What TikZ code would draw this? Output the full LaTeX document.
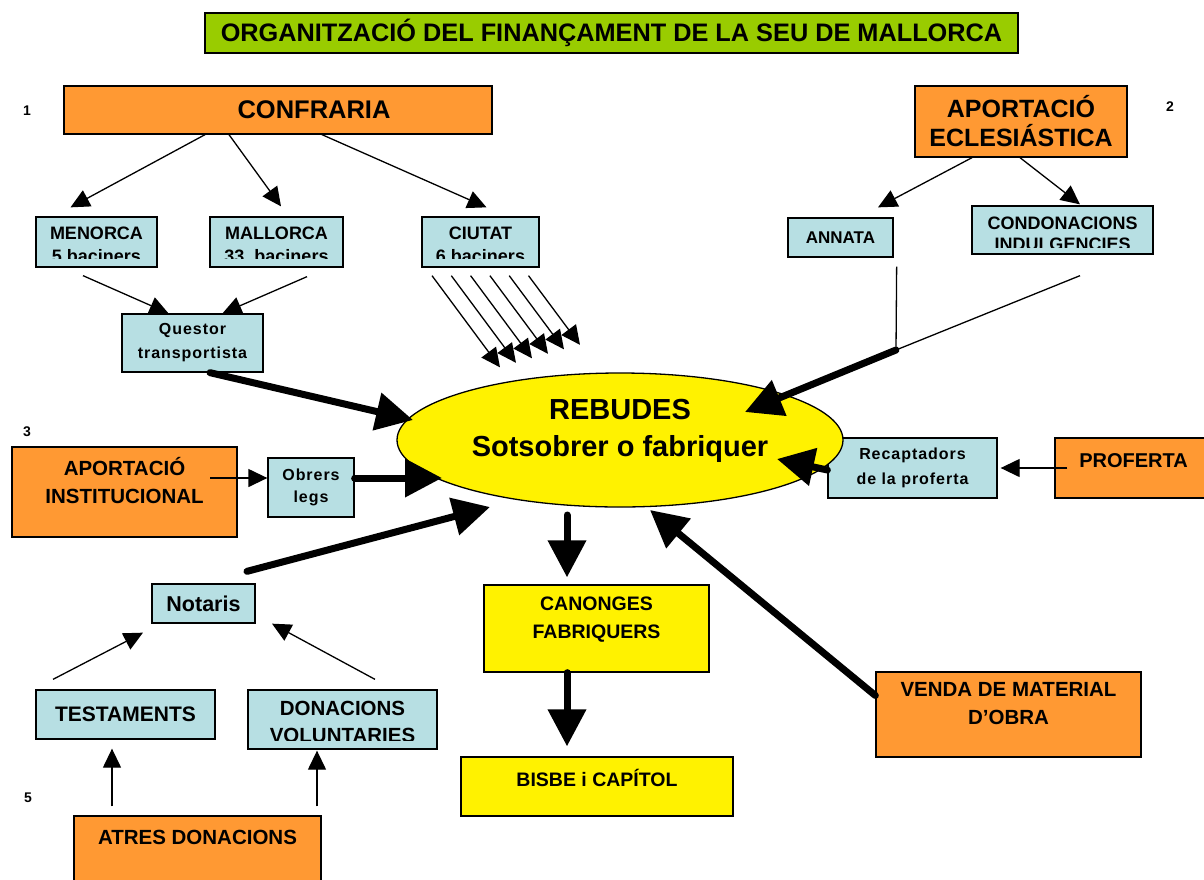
\documentclass[tikz,border=0pt]{standalone}
\usepackage{fontspec}
\setmainfont{Liberation Sans}
\newfontfamily\lsfont[LetterSpace=6]{Liberation Sans}
\usetikzlibrary{arrows.meta,shapes.geometric}
\definecolor{orng}{HTML}{FF9933}
\definecolor{lblue}{HTML}{B7DFE3}
\definecolor{lime}{HTML}{99CC00}
\tikzset{
	rect/.style={draw, line width=1.3pt, inner sep=0pt, align=center},
	obox/.style={rect, fill=orng},
	bbox/.style={rect, fill=lblue},
	ybox/.style={rect, fill=yellow},
	tx/.style={inner sep=0pt, align=center},
	fs/.style 2 args={font=\fontsize{#1}{#2}\selectfont\bfseries},
	ls/.style 2 args={font=\fontsize{#1}{#2}\selectfont\lsfont\bfseries},
	arr/.style={-{Triangle[length=19pt,width=18pt]}, line width=1.3pt},
	fat/.style={-{Triangle[length=37pt,width=37pt]}, line width=7pt, line cap=round},
}
% text of a box, cut off near the bottom edge
\newcommand{\cutlabel}[5]{%
	\begin{scope}
		\clip (#1.north west) rectangle ([yshift=#2]#1.south east);
		\node[tx, fs=#4, anchor=north] (#1T) at ([yshift=-#3]#1.north) {#5};
	\end{scope}}
\begin{document}
\begin{tikzpicture}[x=1pt,y=-1pt]
	\useasboundingbox (0,0) rectangle (1204,879);
	% title and numbers
	\node[rect, fill=lime, minimum width=813pt, minimum height=40pt, fs={25.3}{30}] (title) at (611.5,33) {ORGANITZACIÓ DEL FINANÇAMENT DE LA SEU DE MALLORCA};
	\node[fs={14}{16}] (n1) at (27,111) {1};
	\node[fs={14}{16}] (n2) at (1170,107) {2};
	\node[fs={14}{16}] (n3) at (27,432) {3};
	\node[fs={14}{16}] (n5) at (28,798) {5};
	% sources
	\node[obox, minimum width=428pt, minimum height=48pt] (confraria) at (278,110) {};
	\node[tx, fs={25.5}{30}] (confrariaT) at ([xshift=36pt]confraria.center) {CONFRARIA};
	\node[obox, minimum width=212pt, minimum height=71pt, fs={25}{29}] (apoecc) at (1021,121.5) {APORTACIÓ\\ECLESIÁSTICA};
	\node[obox, minimum width=225pt, minimum height=90pt] (apoinst) at (124.5,492) {};
	\node[tx, fs={20.5}{28}, anchor=north] (apoinstT) at ([yshift=-10.5pt]apoinst.north) {APORTACIÓ\\INSTITUCIONAL};
	\node[obox, minimum width=155pt, minimum height=60pt] (proferta) at (1132.5,468) {};
	\node[tx, fs={20}{24}, anchor=north] (profertaT) at ([xshift=1pt,yshift=-16pt]proferta.north) {PROFERTA};
	\node[obox, minimum width=247pt, minimum height=74pt] (atres) at (197.5,853) {};
	\node[tx, fs={20.5}{24}, anchor=north] (atresT) at ([yshift=-15pt]atres.north) {ATRES DONACIONS};
	\node[obox, minimum width=265pt, minimum height=85pt] (venda) at (1008.5,714.5) {};
	\node[tx, fs={20.5}{28}, anchor=north] (vendaT) at ([yshift=-11pt]venda.north) {VENDA DE MATERIAL\\D’OBRA};
	% collectors
	\node[bbox, minimum width=121pt, minimum height=50pt] (menorca) at (96.5,242) {};
	\node[bbox, minimum width=133pt, minimum height=50pt] (mallorca) at (276.5,242) {};
	\node[bbox, minimum width=117pt, minimum height=50pt] (ciutat) at (480.5,242) {};
	\cutlabel{menorca}{9pt}{10pt}{{18}{23}}{MENORCA\\5 baciners}
	\cutlabel{mallorca}{9pt}{10pt}{{18}{23}}{MALLORCA\\33~~baciners}
	\cutlabel{ciutat}{9pt}{10pt}{{18}{23}}{CIUTAT\\6 baciners}
	\node[bbox, minimum width=141pt, minimum height=58pt, ls={16}{24}] (questor) at (192.5,343) {Questor\\transportista};
	\node[bbox, minimum width=105pt, minimum height=39pt, fs={17}{20}] (annata) at (840.5,237.5) {ANNATA};
	\node[bbox, minimum width=181pt, minimum height=48pt] (condon) at (1062.5,230) {};
	\cutlabel{condon}{7pt}{11pt}{{18}{21.5}}{CONDONACIONS\\INDULGENCIES}
	\node[bbox, minimum width=169pt, minimum height=60pt, ls={16}{25}] (recapt) at (912.5,468) {Recaptadors\\de la proferta};
	\node[bbox, minimum width=86pt, minimum height=59pt, ls={16}{22}] (obrers) at (311,487.5) {Obrers\\legs};
	\node[bbox, minimum width=103pt, minimum height=39pt, fs={21.5}{24}] (notaris) at (203.5,603.5) {Notaris};
	\node[bbox, minimum width=179pt, minimum height=49pt, fs={21}{24}] (testaments) at (125.5,714.5) {TESTAMENTS};
	\node[bbox, minimum width=189pt, minimum height=59pt] (donacions) at (342.5,719.5) {};
	\cutlabel{donacions}{9pt}{12pt}{{20.5}{27}}{DONACIONS\\VOLUNTARIES}
	% receipts and managers
	\node[ellipse, draw, line width=1.3pt, fill=yellow, inner sep=0pt, minimum width=446pt, minimum height=134pt] (rebudes) at (620,440) {};
	\node[tx, fs={29}{37}, anchor=north] (rebudesT) at ([yshift=-27pt]rebudes.north) {REBUDES\\Sotsobrer o fabriquer};
	\node[ybox, minimum width=225pt, minimum height=87pt] (canonges) at (596.5,628.5) {};
	\node[tx, fs={19.5}{28}, anchor=north] (canongesT) at ([yshift=-12.5pt]canonges.north) {CANONGES\\FABRIQUERS};
	\node[ybox, minimum width=272pt, minimum height=59pt] (bisbe) at (597,786.5) {};
	\node[tx, fs={19.5}{24}, anchor=north] (bisbeT) at ([yshift=-13pt]bisbe.north) {BISBE i CAPÍTOL};
	% thin arrows
	\draw[arr] ([xshift=-73pt]confraria.south) -- ([xshift=-26pt,yshift=9pt]menorca.north);
	\draw[arr] ([xshift=-49pt]confraria.south) -- ([xshift=4.5pt,yshift=10pt]mallorca.north);
	\draw[arr] ([xshift=44pt]confraria.south) -- ([xshift=6pt,yshift=9pt]ciutat.north);
	\draw[arr] ([xshift=-49pt]apoecc.south) -- ([xshift=37.5pt,yshift=10pt]annata.north);
	\draw[arr] ([xshift=-1pt]apoecc.south) -- ([xshift=17.5pt,yshift=1pt]condon.north);
	\draw[arr] ([xshift=-13.5pt,yshift=-8pt]menorca.south) -- ([xshift=-24pt]questor.north);
	\draw[arr] ([xshift=30.5pt,yshift=-9pt]mallorca.south) -- ([xshift=30pt]questor.north);
	\foreach \i in {0,...,5}
		\draw[arr] ([xshift={-48.5pt+19.3pt*\i},yshift=-8pt]ciutat.south) -- ([xshift={-120pt+16pt*\i},yshift={5pt+4.5pt*\i}]rebudes.north);
	\draw[arr] ([xshift=13pt]proferta.west) -- ([xshift=3pt]recapt.east);
	\draw[arr] ([xshift=85.5pt,yshift=14pt]apoinst.center) -- ([yshift=9.5pt]obrers.west);
	\draw[arr] ([xshift=-72.5pt,yshift=10pt]testaments.north) -- ([xshift=-60.5pt,yshift=-9pt]notaris.south);
	\draw[arr] ([xshift=32.5pt,yshift=10pt]donacions.north) -- ([xshift=68.5pt]notaris.south);
	\draw[arr] ([xshift=-85.5pt,yshift=9pt]atres.north) -- ([xshift=-13.5pt,yshift=-9pt]testaments.south);
	\draw[arr] ([xshift=119.5pt,yshift=9pt]atres.north) -- ([xshift=-25.5pt,yshift=-1pt]donacions.south);
	% church contributions join
	\coordinate (join) at (896,350);
	\draw[line width=1.3pt] ([xshift=3pt,yshift=-9pt]annata.south east) -- (join);
	\draw[line width=1.3pt] ([xshift=17.5pt,yshift=-21pt]condon.south) -- (join);
	% thick arrows
	\draw[fat] (join) -- ([xshift=125pt,yshift=28pt]rebudes.center);
	\draw[fat] ([xshift=17.5pt]questor.south) -- ([xshift=-207pt,yshift=20pt]rebudes.center);
	\draw[fat] ([yshift=9.5pt]obrers.east) -- ([xshift=-178pt,yshift=-38pt]rebudes.center);
	\draw[fat] ([xshift=43.5pt,yshift=12pt]notaris.north) -- ([xshift=-130pt,yshift=-67pt]rebudes.center);
	\draw[fat] ([yshift=-2pt]recapt.west) -- ([xshift=157pt,yshift=-19pt]rebudes.center);
	\draw[fat] ([yshift=19pt]venda.west) -- ([xshift=30pt,yshift=-70pt]rebudes.center);
	\draw[fat] ([xshift=-53pt,yshift=-75pt]rebudes.center) -- ([xshift=-29.5pt,yshift=7pt]canonges.north);
	\draw[fat] ([xshift=-29.5pt]canonges.south) -- ([xshift=-30pt,yshift=10pt]bisbe.north);
\end{tikzpicture}
\end{document}
